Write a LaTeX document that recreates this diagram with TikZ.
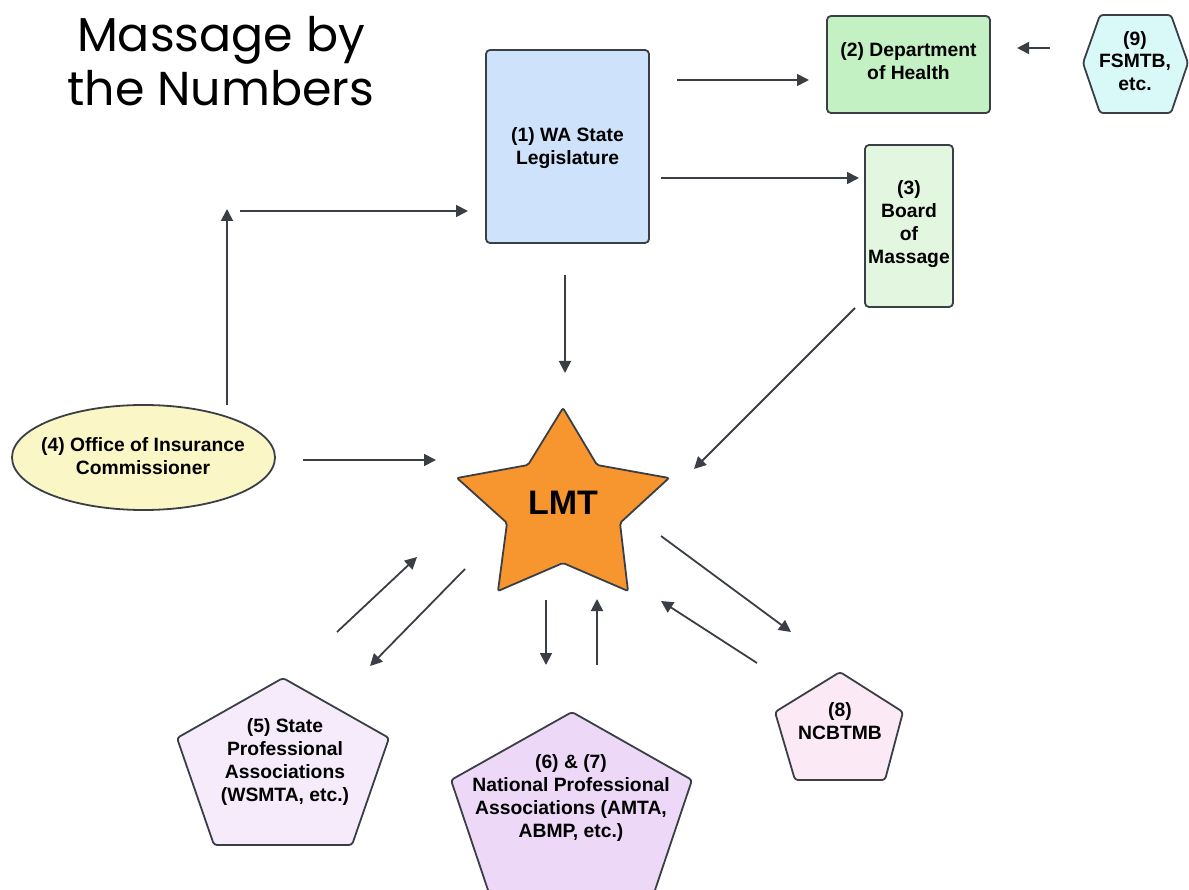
\documentclass[tikz,border=0pt]{standalone}
\usepackage{fontspec}
\setmainfont{Liberation Sans}
\newfontfamily\titlefont{Poppins}
\usetikzlibrary{shapes.geometric,arrows.meta}
\definecolor{dk}{HTML}{3A3F46}
\definecolor{cleg}{HTML}{CFE2FB}
\definecolor{cdoh}{HTML}{C3F1C3}
\definecolor{cbom}{HTML}{E3F7E0}
\definecolor{cfsm}{HTML}{D9F8F8}
\definecolor{coic}{HTML}{FBF6C6}
\definecolor{cstar}{HTML}{F7952F}
\definecolor{cpa}{HTML}{F6EBFB}
\definecolor{cpb}{HTML}{EDD8F8}
\definecolor{cpc}{HTML}{FBE9F5}
\begin{document}
\begin{tikzpicture}[x=1pt,y=-1pt,
  shapeline/.style={draw=dk, line width=1.8pt, rounded corners=3pt},
  box/.style={shapeline, rectangle, rounded corners=4pt, inner sep=0pt},
  lbl/.style={align=center, font=\bfseries\fontsize{19.3}{22.8}\selectfont, inner sep=0pt},
  ar/.style={draw=dk, line width=1.8pt, -{Triangle[length=12pt,width=12pt]}}]
\useasboundingbox (0,0) rectangle (1189,890);

% title
\node[align=center, font=\titlefont\fontsize{47.5}{54}\selectfont, inner sep=0pt] (title) at (221,61) {Massage by\\the Numbers};

% boxes
\node[box, fill=cleg, minimum width=163pt, minimum height=193pt] (leg) at (567.5,146.5) {};
\node[lbl] (legt) at (567.5,148) {(1) WA State\\Legislature};
\node[box, fill=cdoh, minimum width=163pt, minimum height=97pt] (doh) at (908.5,64.5) {};
\node[lbl] (doht) at (908.5,61) {(2) Department\\of Health};
\node[box, fill=cbom, minimum width=88pt, minimum height=162pt] (bom) at (909,226) {};
\node[lbl] (bomt) at (909,224) {(3)\\Board\\of\\Massage};

% hexagon 9
\draw[shapeline, fill=cfsm] (1100,15) -- (1171,15) -- (1188,63) -- (1171,113) -- (1100,113) -- (1083,63) -- cycle;
\node[lbl] (fsm) at (1135,61) {(9)\\FSMTB,\\etc.};

% ellipse 4
\node[ellipse, draw=dk, line width=1.8pt, fill=coic, minimum width=263pt, minimum height=105pt, inner sep=0pt] (oic) at (143.5,457.5) {};
\node[lbl] (oict) at (143,456) {(4) Office of Insurance\\Commissioner};

% star
\draw[draw=dk, line width=1.8pt, fill=cstar, rounded corners=2pt]
  (563,408) -- (597,465) -- (669,478) -- (620,523) -- (628,591) -- (563,563)
  -- (498,591) -- (507,523) -- (457,478) -- (528,465) -- cycle;
\node[font=\bfseries\fontsize{34}{34}\selectfont, inner sep=0pt] (lmt) at (563,503) {LMT};

% pentagons
\draw[shapeline, fill=cpa] (283,678) -- (389,738) -- (352,845) -- (214,845) -- (177,738) -- cycle;
\node[lbl] (p5) at (285,762) {(5) State\\Professional\\Associations\\(WSMTA, etc.)};
\draw[shapeline, fill=cpb] (572,712) -- (692,780) -- (651,902) -- (492,902) -- (451,780) -- cycle;
\node[lbl] (p6) at (571,798) {(6) \& (7)\\National Professional\\Associations (AMTA,\\ABMP, etc.)};
\draw[shapeline, fill=cpc] (840,672) -- (903,712) -- (885,780) -- (795,780) -- (775,712) -- cycle;
\node[lbl] (p8) at (840,721) {(8)\\NCBTMB};

% arrow end points
\coordinate (a1s) at (677,80);   \coordinate (a1e) at (809,80);
\coordinate (a2s) at (1050,48);  \coordinate (a2e) at (1017,48);
\coordinate (a3s) at (661,178);  \coordinate (a3e) at (859,178);
\coordinate (a4s) at (227,405);  \coordinate (a4e) at (227,209);
\coordinate (a5s) at (240,211);  \coordinate (a5e) at (468,211);
\coordinate (a6s) at (565,275);  \coordinate (a6e) at (565,373);
\coordinate (a7s) at (855,308);  \coordinate (a7e) at (694,469);
\coordinate (a8s) at (303,460);  \coordinate (a8e) at (436,460);
\coordinate (a9s) at (337,632);  \coordinate (a9e) at (417,557);
\coordinate (a10s) at (465,569); \coordinate (a10e) at (370,666);
\coordinate (a11s) at (546,600); \coordinate (a11e) at (546,665);
\coordinate (a12s) at (597,665); \coordinate (a12e) at (597,599);
\coordinate (a13s) at (757,663); \coordinate (a13e) at (661,601);
\coordinate (a14s) at (661,536); \coordinate (a14e) at (791,632);

\foreach \i in {1,...,14} {\draw[ar] (a\i s) -- (a\i e);}
\end{tikzpicture}
\end{document}
